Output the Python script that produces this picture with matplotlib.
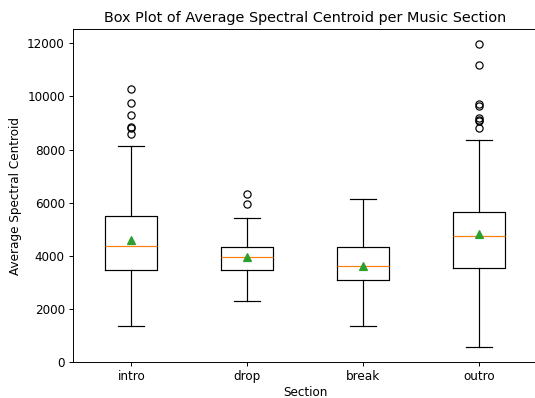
import matplotlib
matplotlib.use("Agg")
import matplotlib.pyplot as plt

sections = ["intro", "drop", "break", "outro"]
whislo = [1337, 2284, 1337, 568]
q1 = [3445, 3470, 3079, 3546]
med = [4379, 3950, 3621, 4732]
q3 = [5489, 4341, 4315, 5653]
whishi = [8139, 5426, 6145, 8353]
means = [4580, 3955, 3625, 4808]
fliers = [
    [10296, 9755, 9312, 8846, 8794, 8593],
    [6310, 5932],
    [],
    [11962, 11167, 9729, 9628, 9186, 9123, 9060, 8808],
]

stats = []
for i, name in enumerate(sections):
    stats.append(dict(label=name, whislo=whislo[i], q1=q1[i], med=med[i],
                      q3=q3[i], whishi=whishi[i], mean=means[i], fliers=fliers[i]))

DPI = 86.4
fig = plt.figure(figsize=(535 / DPI, 398 / DPI), dpi=DPI)
ax = fig.add_axes([0.137, 0.0905, 0.867, 0.836])
ax.bxp(stats, showmeans=True)
ax.set_title("Box Plot of Average Spectral Centroid per Music Section")
ax.set_xlabel("Section", labelpad=2)
ax.set_ylabel("Average Spectral Centroid")
fig.savefig("out.png", dpi=DPI)
